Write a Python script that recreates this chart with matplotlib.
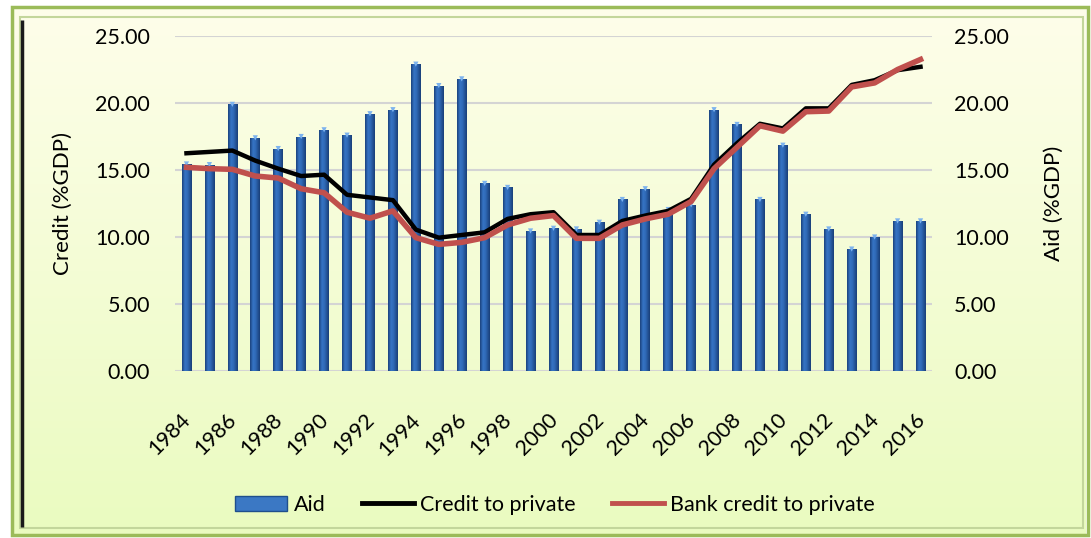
import matplotlib
matplotlib.use("Agg")
import matplotlib.pyplot as plt
import matplotlib.transforms as mtransforms
import numpy as np
from matplotlib.patches import Rectangle
from matplotlib.lines import Line2D
from matplotlib.colors import LinearSegmentedColormap

years = list(range(1984, 2017))
aid = [15.45, 15.4, 19.9, 17.4, 16.6, 17.5, 18.0, 17.6, 19.2, 19.5,
       22.9, 21.3, 21.8, 14.0, 13.7, 10.45, 10.65, 10.6, 11.1, 12.8,
       13.6, 12.05, 12.4, 19.5, 18.4, 12.8, 16.85, 11.7, 10.6, 9.1,
       10.0, 11.2, 11.2]
credit = [16.25, 16.35, 16.45, 15.7, 15.1, 14.55, 14.65, 13.15, 12.95, 12.75,
          10.55, 9.95, 10.15, 10.35, 11.35, 11.7, 11.85, 10.15, 10.15, 11.2,
          11.6, 11.95, 12.85, 15.4, 17.0, 18.45, 18.1, 19.6, 19.6, 21.35,
          21.7, 22.45, 22.7]
bank_credit = [15.2, 15.1, 15.05, 14.55, 14.4, 13.6, 13.3, 11.85, 11.4, 11.95,
               9.95, 9.45, 9.6, 9.95, 10.9, 11.4, 11.6, 9.9, 9.9, 10.9,
               11.35, 11.7, 12.65, 15.1, 16.7, 18.3, 17.9, 19.35, 19.4, 21.2,
               21.5, 22.5, 23.25]
yticks = [0, 5, 10, 15, 20, 25]

plt.rcParams['font.family'] = ['Lato', 'DejaVu Sans']

W, H = 1091, 538
fig = plt.figure(figsize=(W / 100, H / 100), dpi=100)
fig.patch.set_facecolor('white')

# background with frame
bg = fig.add_axes([0, 0, 1, 1], zorder=-5)
bg.set_xlim(0, W)
bg.set_ylim(H, 0)
bg.axis('off')
grad = np.linspace(0, 1, 256).reshape(-1, 1)
top_c = np.array([254, 254, 234]) / 255
bot_c = np.array([234, 251, 192]) / 255
img = top_c[None, None, :] * (1 - grad[:, :, None]) + bot_c[None, None, :] * grad[:, :, None]
bg.imshow(img, extent=[13, 1086, 534, 9], aspect='auto', zorder=0)
bg.add_patch(Rectangle((12, 7), 1076, 528, fill=False, ec='#9bbb59', lw=2.5, zorder=2))
bg.add_patch(Rectangle((20, 17), 1063, 511, fill=False, ec='#c3d69b', lw=1.5, zorder=2))
bg.plot([22, 22], [20, 527], color='#1a1a1a', lw=2.5, zorder=3, solid_capstyle='butt')

ax = fig.add_axes([175 / W, 1 - 371 / H, (932 - 175) / W, (371 - 36) / H])
ax.patch.set_alpha(0)
x = np.arange(len(years))
bar_w = 0.42
bars = ax.bar(x, aid, width=bar_w, color='#2f69b3', edgecolor='none', linewidth=0, zorder=2)
bar_cmap = LinearSegmentedColormap.from_list(
    'barg', [(0, '#1a427c'), (0.3, '#3674c4'), (0.55, '#306bb8'), (1, '#193f78')])
hgrad = np.linspace(0, 1, 64).reshape(1, -1)
for b in bars:
    bx, bw, bh = b.get_x(), b.get_width(), b.get_height()
    im = ax.imshow(hgrad, cmap=bar_cmap, extent=[bx, bx + bw, 0, bh],
                   aspect='auto', zorder=2.1, interpolation='bilinear')
    im.set_clip_path(b)
ax.scatter(x, aid, marker='v', s=14, color='#7db3ee', edgecolors='none', zorder=2.2)
ax.set_xlim(-0.5, len(years) - 0.5)
ax.set_ylim(0, 25)
ax.grid(axis='y', color='#d4d4d4', lw=1.5, zorder=0)
ax.set_axisbelow(True)
for s in ax.spines.values():
    s.set_visible(False)

ax2 = ax.twinx()
ax2.patch.set_alpha(0)
ax2.plot(x, credit, color='black', lw=3.2, zorder=3)
ax2.plot(x, bank_credit, color='#c0504d', lw=4.0, zorder=4)
ax2.set_ylim(0, 25)
ax2.set_yticks(yticks)
ax2.set_yticklabels([f"{v:.2f}" for v in yticks], fontsize=15.5)
ax2.yaxis.tick_left()
ax2.yaxis.set_label_position('left')
ax2.set_ylabel('Credit (%GDP)', fontsize=16, labelpad=16)
ax2.tick_params(axis='y', length=0, pad=18)
ax2.set_xticks([])
for s in ax2.spines.values():
    s.set_visible(False)

# right axis (Aid) on the bar axes
ax.set_yticks(yticks)
ax.set_yticklabels([f"{v:.2f}" for v in yticks], fontsize=15.5)
ax.yaxis.tick_right()
ax.yaxis.set_label_position('right')
ax.set_ylabel('Aid (%GDP)', fontsize=16, labelpad=25)
ax.tick_params(axis='y', length=0, pad=16)

# rotated year labels, placed explicitly under each tick
ax.set_xticks(x[::2])
ax.set_xticklabels([])
ax.tick_params(axis='x', length=0)
lab_trans = ax.get_xaxis_transform() + mtransforms.ScaledTranslation(
    1 / 100, -46 / 100, fig.dpi_scale_trans)
for xi, yr in zip(x[::2], years[::2]):
    ax.text(xi, 0, str(yr), transform=lab_trans, rotation=45, ha='right', va='center',
            rotation_mode='anchor', fontsize=15.5)

handles = [Rectangle((0, 0), 1, 1, fc='#3b78c4', ec='#1f4f8c'),
           Line2D([], [], color='black', lw=3.5),
           Line2D([], [], color='#c0504d', lw=3.5)]
fig.legend(handles, ['Aid', 'Credit to private', 'Bank credit to private'],
           loc='center', bbox_to_anchor=(0.509, 0.062), ncol=3, frameon=False,
           fontsize=15.5, handlelength=2.4, handletextpad=0.3, columnspacing=1.7)

fig.savefig('out.png', dpi=100)
